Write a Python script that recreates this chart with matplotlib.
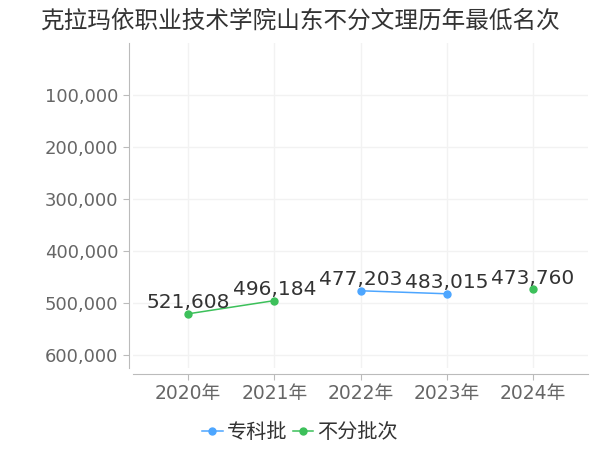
import matplotlib
matplotlib.use('Agg')
import matplotlib.pyplot as plt
from matplotlib.ticker import FuncFormatter
import numpy as np

plt.rcParams['font.family'] = ['DejaVu Sans', 'Noto Sans CJK SC']

years = ['2020年', '2021年', '2022年', '2023年', '2024年']
zhuanke = [None, None, 477203, 483015, None]
bufen = [521608, 496184, None, None, 473760]
title = '克拉玛依职业技术学院山东不分文理历年最低名次'

fig = plt.figure(figsize=(6, 4.5), dpi=100)
ax = fig.add_axes([0.2217, 0.1822, 0.7583, 0.7222])

x = np.arange(len(years))


def seg(vals):
    return np.array([np.nan if v is None else v for v in vals], dtype=float)


blue = '#4da6ff'
green = '#3cc05a'
ax.plot(x, seg(zhuanke), color=blue, marker='o', markersize=5, lw=1.1, label='专科批')
ax.plot(x, seg(bufen), color=green, marker='o', markersize=5, lw=1.1, label='不分批次')

for series in (zhuanke, bufen):
    for i, v in enumerate(series):
        if v is None:
            continue
        ax.annotate(f'{v:,}', (i, v), xytext=(0, 1), textcoords='offset points',
                    ha='center', va='bottom', fontsize=14.5, color='#333333')

ax.set_xlim(-0.64, 4.64)
ax.set_ylim(626000, 0)
ax.set_yticks([100000, 200000, 300000, 400000, 500000, 600000])
ax.yaxis.set_major_formatter(FuncFormatter(lambda v, p: f'{int(v):,}'))
ax.set_xticks(x)
ax.set_xticklabels(years)

ax.grid(True, color='#f2f2f2', lw=1)
ax.set_axisbelow(True)
for s in ('top', 'right'):
    ax.spines[s].set_visible(False)
ax.spines['left'].set_color('#bbbbbb')
ax.spines['bottom'].set_color('#bbbbbb')
ax.spines['left'].set_position(('outward', 3))
ax.spines['bottom'].set_position(('outward', 4))
ax.tick_params(axis='y', colors='#bbbbbb', labelcolor='#666666', labelsize=13, length=4)
ax.tick_params(axis='x', colors='#bbbbbb', labelcolor='#666666', labelsize=13.5, length=4)

fig.text(0.5, 0.955, title, ha='center', va='center', fontsize=17, color='#333333')

fig.legend(loc='center', bbox_to_anchor=(0.5, 0.04),
           ncol=2, frameon=False, fontsize=14.5, handlelength=1.0, handletextpad=0.2,
           columnspacing=0.3, labelcolor='#333333')

fig.savefig('out.png', dpi=100)
